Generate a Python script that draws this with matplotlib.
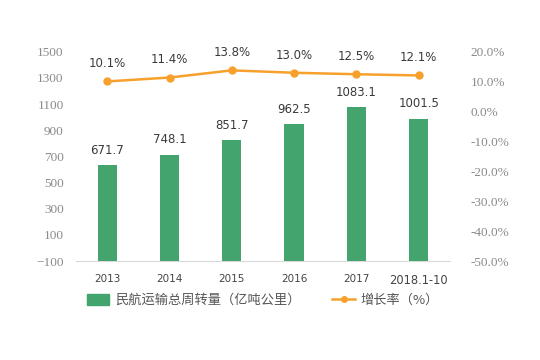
import matplotlib
matplotlib.use("Agg")
import matplotlib.pyplot as plt
import matplotlib.ticker as mticker
from matplotlib.lines import Line2D
from matplotlib.patches import Patch

# ── Data ──────────────────────────────────────────────────────────────────────
years = ["2013", "2014", "2015", "2016", "2017", "2018.1-10"]
turnover = [671.7, 748.1, 851.7, 962.5, 1083.1, 1001.5]   # 亿吨公里
growth = [10.1, 11.4, 13.8, 13.0, 12.5, 12.1]              # %

GREEN = "#44A46E"
ORANGE = "#F7A12C"
TEXT = "#3a3a3a"
TICK = "#8a8a8a"
CJK = ["Noto Sans CJK SC", "DejaVu Sans"]

fig = plt.figure(figsize=(5.4, 3.6), dpi=100)
ax = fig.add_axes([0.141, 0.275, 0.692, 0.581])
ax2 = ax.twinx()
# bars sit on their own hidden scale (the source chart draws them from the baseline)
axb = ax.twinx()
axb.set_ylim(0, 1471)
axb.axis("off")

x = list(range(len(years)))
axb.bar(x, turnover, width=0.31, color=GREEN, zorder=2)
for xi, v in zip(x, turnover):
    axb.annotate(f"{v:.1f}", (xi, v), textcoords="offset points", xytext=(0, 6),
                 ha="center", va="bottom", fontsize=8.5, color=TEXT)

ax2.set_zorder(axb.get_zorder() + 1)
ax2.plot(x, [g / 100 for g in growth], color=ORANGE, linewidth=1.8,
         marker="o", markersize=5, zorder=3)
for xi, g in zip(x, growth):
    ax2.annotate(f"{g:.1f}%", (xi, g / 100), textcoords="offset points",
                 xytext=(0, 8), ha="center", va="bottom", fontsize=8.5, color=TEXT)

ax.set_xlim(-0.5, len(years) - 0.5)
ax.set_ylim(-100, 1500)
ax.set_yticks(range(-100, 1501, 200))
ax2.set_ylim(-0.5, 0.2)
ax2.set_yticks([-0.5, -0.4, -0.3, -0.2, -0.1, 0.0, 0.1, 0.2])
ax2.yaxis.set_major_formatter(mticker.FuncFormatter(lambda v, _: f"{v * 100:.1f}%"))

ax.set_xticks(x)
ax.set_xticklabels(years)
for lbl in ax.get_xticklabels():
    lbl.set_fontsize(7.5 if lbl.get_text() != "2018.1-10" else 8.3)
    lbl.set_color("#444444")

for a in (ax, ax2):
    for side in ("top", "left", "right", "bottom"):
        a.spines[side].set_visible(False)
    a.tick_params(length=0)
ax.spines["bottom"].set_visible(True)
ax.spines["bottom"].set_color("#d9d9d9")
ax.tick_params(axis="x", pad=9)
ax.tick_params(axis="y", pad=9, labelsize=9.5, labelcolor=TICK)
ax2.tick_params(axis="y", pad=15, labelsize=9.5, labelcolor=TICK)
for lbl in ax.get_yticklabels() + ax2.get_yticklabels():
    lbl.set_family("Liberation Serif")

handles = [
    Patch(color=GREEN, label="民航运输总周转量（亿吨公里）"),
    Line2D([0], [0], color=ORANGE, marker="o", markersize=4, linewidth=1.8,
           label="增长率（%）"),
]
fig.legend(handles=handles, loc="center", bbox_to_anchor=(0.487, 0.165), ncol=2,
           frameon=False, prop={"family": CJK, "size": 9.5}, labelcolor="#555555",
           handlelength=1.7, handleheight=0.8, columnspacing=2.4, handletextpad=0.45)

fig.savefig("out.png", dpi=100)
